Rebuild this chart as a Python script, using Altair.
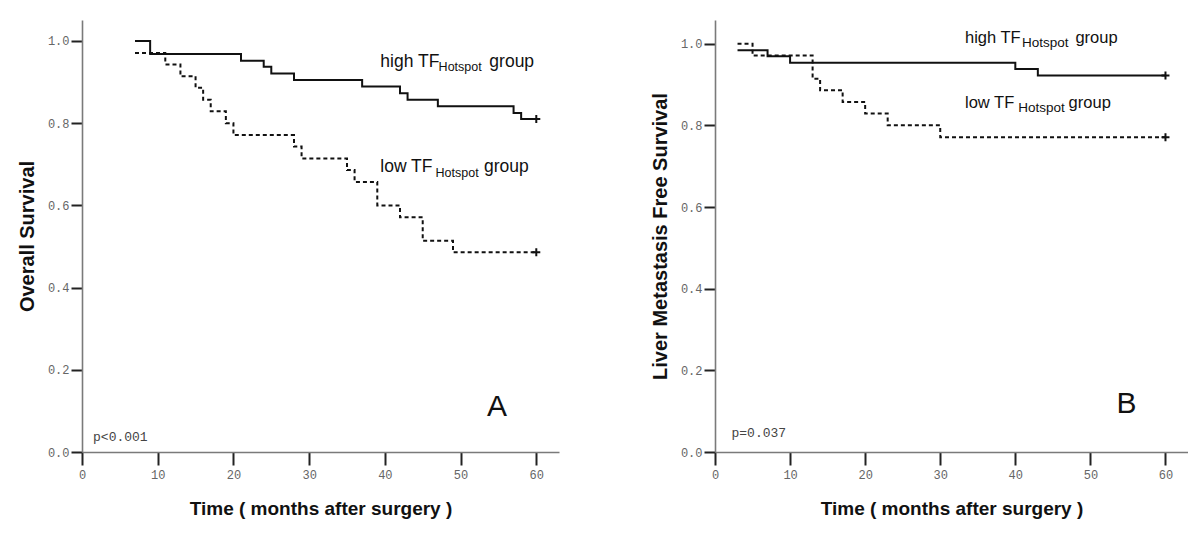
import altair as alt
import pandas as pd

# ---------------- Panel A : Overall survival ----------------
a_high_t = [7, 9, 21, 24, 25, 28, 37, 42, 43, 47, 57, 58, 60]
a_high_s = [1.0, 0.968, 0.952, 0.937, 0.921, 0.905, 0.889, 0.873, 0.857, 0.841, 0.825, 0.810, 0.810]
a_low_t = [7, 11, 13, 15, 16, 17, 19, 20, 28, 29, 35, 36, 39, 42, 45, 49, 60]
a_low_s = [0.971, 0.943, 0.914, 0.886, 0.857, 0.829, 0.800, 0.771, 0.743, 0.714,
           0.686, 0.657, 0.600, 0.571, 0.514, 0.486, 0.486]

# ---------------- Panel B : Liver metastasis free survival ----------------
b_high_t = [3, 7, 10, 40, 43, 60]
b_high_s = [0.984, 0.969, 0.953, 0.938, 0.922, 0.922]
b_low_t = [3, 5, 13, 14, 17, 20, 23, 30, 60]
b_low_s = [1.0, 0.971, 0.914, 0.886, 0.857, 0.829, 0.800, 0.771, 0.771]

# ---------------- Annotations ----------------
lab_text = ["high TF", "Hotspot", "group", "low TF", "Hotspot", "group"]
lab_kind = ["main", "sub", "main", "main", "sub", "main"]
a_lab_x = [39.4, 47.1, 53.8, 39.4, 46.7, 53.1]
a_lab_y = [0.9375, 0.928, 0.9375, 0.680, 0.670, 0.680]
b_lab_x = [33.3, 40.9, 48.0, 33.3, 40.4, 47.1]
b_lab_y = [1.0017, 0.992, 1.0017, 0.8425, 0.8327, 0.8425]

x_ticks = [0, 10, 20, 30, 40, 50, 60]
y_ticks = [0.0, 0.2, 0.4, 0.6, 0.8, 1.0]
x_title = "Time ( months after surgery )"

INK = "#111111"
PLUS = "M-1,0L1,0M0,-1L0,1"


def panel(high_t, high_s, low_t, low_s, lab_x, lab_y, main_fs, sub_fs, letter, letter_x, letter_y,
          ptext, p_x, p_y, ytitle, width, ymax):
    xenc = alt.X("t:Q", scale=alt.Scale(domain=[0, 63], nice=False),
                 axis=alt.Axis(values=x_ticks, title=x_title, format="d", labelFlush=False))
    yenc = alt.Y("s:Q", scale=alt.Scale(domain=[0, ymax], nice=False),
                 axis=alt.Axis(values=y_ticks, format=".1f", title=ytitle, labelFlush=False))

    high = pd.DataFrame({"t": high_t, "s": high_s})
    low = pd.DataFrame({"t": low_t, "s": low_s})
    ends = pd.DataFrame({"t": [high_t[-1], low_t[-1]], "s": [high_s[-1], low_s[-1]]})
    labs = pd.DataFrame({"t": lab_x, "s": lab_y, "txt": lab_text, "kind": lab_kind})
    let = pd.DataFrame({"t": [letter_x], "s": [letter_y], "txt": [letter]})
    pv = pd.DataFrame({"t": [p_x], "s": [p_y], "txt": [ptext]})

    l_high = alt.Chart(high).mark_line(interpolate="step-after", strokeWidth=2, color=INK).encode(x=xenc, y=yenc)
    l_low = alt.Chart(low).mark_line(interpolate="step-after", strokeWidth=2, color=INK,
                                     strokeDash=[4, 3]).encode(x=xenc, y=yenc)
    cens = alt.Chart(ends).mark_point(shape=PLUS, filled=False, strokeWidth=2, size=64,
                                      color=INK, opacity=1).encode(x=xenc, y=yenc)
    main_t = alt.Chart(labs).transform_filter("datum.kind == 'main'").mark_text(
        align="left", baseline="alphabetic", font="Liberation Sans", fontSize=main_fs, color=INK
    ).encode(x=xenc, y=yenc, text="txt:N")
    sub_t = alt.Chart(labs).transform_filter("datum.kind == 'sub'").mark_text(
        align="left", baseline="alphabetic", font="Liberation Sans", fontSize=sub_fs, color=INK
    ).encode(x=xenc, y=yenc, text="txt:N")
    let_t = alt.Chart(let).mark_text(
        align="center", baseline="alphabetic", font="Liberation Sans", fontSize=30, color=INK
    ).encode(x=xenc, y=yenc, text="txt:N")
    p_t = alt.Chart(pv).mark_text(
        align="left", baseline="alphabetic", font="Liberation Mono", fontSize=13, color="#444444"
    ).encode(x=xenc, y=yenc, text="txt:N")

    return alt.layer(l_high, l_low, cens, main_t, sub_t, let_t, p_t).properties(width=width, height=432)


pa = panel(a_high_t, a_high_s, a_low_t, a_low_s, a_lab_x, a_lab_y, 17.5, 12.5, "A", 54.8, 0.0866,
           "p<0.001", 1.46, 0.026, "Overall Survival", 477, 1.051)
pb = panel(b_high_t, b_high_s, b_low_t, b_low_s, b_lab_x, b_lab_y, 16.5, 13.5, "B", 54.8, 0.096,
           "p=0.037", 2.2, 0.037, "Liver Metastasis Free Survival", 473, 1.058)

chart = alt.hconcat(pa, pb, spacing=156, bounds="flush").properties(
    padding={"left": 9, "top": 12, "right": 0, "bottom": 4}
).configure_view(stroke=None).configure_axis(
    grid=False, domainColor="#7a7a7a", domainWidth=1.6, tickColor="#222222", tickWidth=2,
    labelFont="Liberation Mono", labelFontSize=12, labelColor="#666666",
    titleFont="Liberation Sans", titleFontWeight="bold", titleColor=INK
).configure_axisX(tickSize=13, labelPadding=4, titlePadding=19, titleFontSize=19
).configure_axisY(tickSize=11, labelPadding=2, titlePadding=10, titleFontSize=20)

chart.save("out.html", embed_options={"renderer": "svg", "actions": False})
